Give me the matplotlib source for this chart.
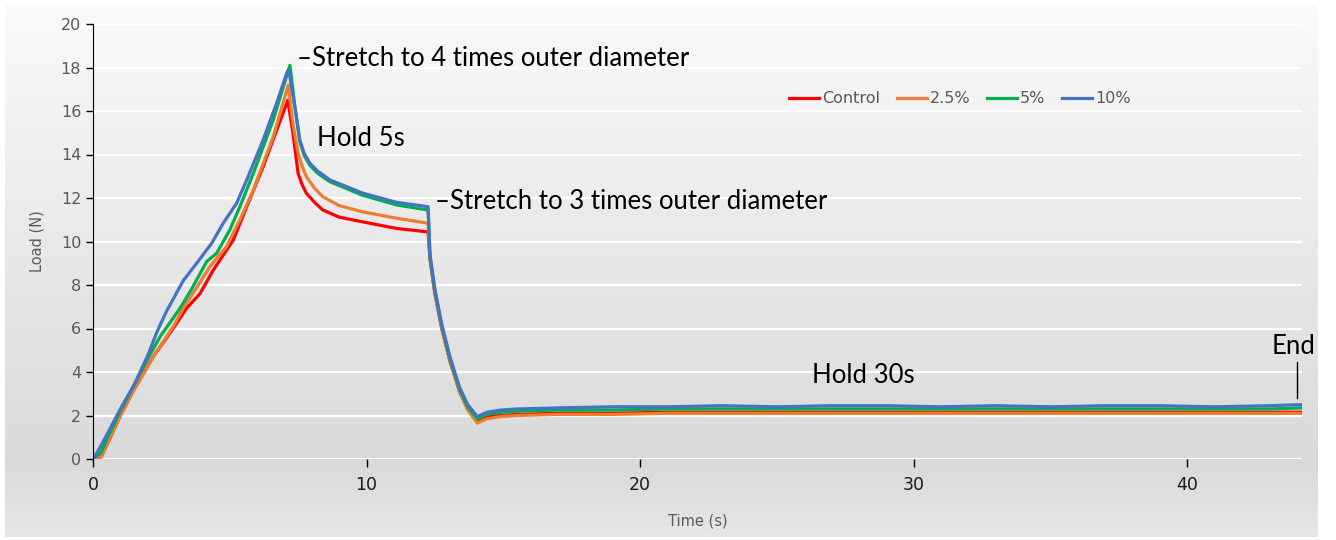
import numpy as np
import matplotlib.pyplot as plt

# time (s) / load (N)
t_blue = [0, 0.2, 0.5, 1, 1.5, 2, 2.34, 2.69, 3.3, 3.79, 4.34, 4.76, 5.25, 5.62, 6.22, 6.71, 7.08, 7.15,
          7.38, 7.56, 7.72, 7.93, 8.2, 8.66, 9.87, 11.1, 12.25,
          12.32, 12.5, 12.75, 13.05, 13.4, 13.7, 14.05, 14.4, 14.9, 15.5, 17, 19, 21,
          23, 25, 27, 29, 31, 33, 35, 37, 39, 41, 43, 44.2]
l_blue = [0, 0.4, 1.1, 2.3, 3.4, 4.75, 5.85, 6.8, 8.2, 9.0, 9.92, 10.84, 11.76, 12.83, 14.67, 16.35, 17.73, 17.9,
          16.2, 14.67, 14.05, 13.6, 13.25, 12.83, 12.22, 11.8, 11.6,
          9.4, 7.8, 6.2, 4.7, 3.3, 2.5, 1.95, 2.15, 2.25, 2.3, 2.35, 2.4, 2.4,
          2.45, 2.4, 2.45, 2.45, 2.4, 2.45, 2.4, 2.45, 2.45, 2.4, 2.45, 2.5]

t_green = [0, 0.3, 0.5, 1, 1.5, 2, 2.45, 3.18, 3.6, 4.15, 4.52, 5.0, 5.37, 5.86, 6.59, 7.2,
           7.38, 7.56, 7.72, 7.93, 8.2, 8.66, 9.87, 11.1, 12.25,
           12.32, 12.5, 12.75, 13.05, 13.4, 13.7, 14.05, 14.4, 14.9, 15.5, 17, 19, 21,
           23, 25, 27, 29, 31, 33, 35, 37, 39, 41, 43, 44.2]
l_green = [0, 0.3, 0.9, 2.2, 3.4, 4.6, 5.62, 6.93, 7.8, 9.07, 9.46, 10.53, 11.6, 13.13, 15.59, 18.1,
           16.2, 14.6, 13.95, 13.5, 13.15, 12.75, 12.12, 11.68, 11.45,
           9.3, 7.7, 6.1, 4.6, 3.2, 2.4, 1.85, 2.05, 2.15, 2.2, 2.25, 2.25, 2.3,
           2.3, 2.3, 2.3, 2.3, 2.3, 2.3, 2.3, 2.3, 2.3, 2.3, 2.3, 2.35]

t_orange = [0, 0.3, 0.6, 1, 1.5, 2.2, 2.93, 3.3, 3.8, 4.27, 4.88, 5.37, 5.86, 6.59, 7.14,
            7.31, 7.5, 7.65, 7.8, 8.1, 8.4, 9.0, 9.87, 11.1, 12.25,
            12.32, 12.5, 12.75, 13.05, 13.4, 13.7, 14.05, 14.4, 14.9, 15.5, 17, 19, 21,
            23, 25, 27, 29, 31, 33, 35, 37, 39, 41, 43, 44.2]
l_orange = [0, 0.1, 0.9, 2.0, 3.2, 4.7, 6.08, 6.93, 7.9, 8.84, 9.76, 10.99, 12.37, 14.82, 17.2,
            15.4, 14.07, 13.45, 12.98, 12.45, 12.06, 11.65, 11.36, 11.07, 10.84,
            9.2, 7.6, 6.0, 4.5, 3.1, 2.25, 1.65, 1.85, 1.95, 2.0, 2.05, 2.05, 2.1,
            2.1, 2.1, 2.1, 2.1, 2.1, 2.1, 2.1, 2.1, 2.1, 2.1, 2.1, 2.1]

t_red = [0, 0.3, 0.6, 1, 1.5, 2.2, 2.93, 3.42, 3.91, 4.4, 5.13, 5.62, 6.22, 7.08, 7.12,
         7.31, 7.5, 7.65, 7.8, 8.1, 8.4, 9.0, 9.87, 11.1, 12.25,
         12.32, 12.5, 12.75, 13.05, 13.4, 13.7, 14.05, 14.4, 14.9, 15.5, 17, 19, 21,
         23, 25, 27, 29, 31, 33, 35, 37, 39, 41, 43, 44.2]
l_red = [0, 0.1, 0.9, 2.0, 3.2, 4.7, 6.0, 6.93, 7.6, 8.69, 10.07, 11.6, 13.44, 16.35, 16.5,
         14.98, 13.13, 12.6, 12.22, 11.8, 11.45, 11.12, 10.9, 10.6, 10.44,
         9.2, 7.6, 6.0, 4.5, 3.1, 2.3, 1.75, 1.95, 2.0, 2.05, 2.1, 2.1, 2.15,
         2.15, 2.15, 2.15, 2.15, 2.15, 2.15, 2.15, 2.15, 2.15, 2.15, 2.15, 2.15]

series = [("Control", t_red, l_red, "#ff0000"),
          ("2.5%", t_orange, l_orange, "#ed7d31"),
          ("5%", t_green, l_green, "#00b050"),
          ("10%", t_blue, l_blue, "#4472c4")]

W, H = 1336, 540
fig = plt.figure(figsize=(W / 100, H / 100), dpi=100)
fig.patch.set_facecolor("white")

# gradient background box like the Excel chart area
bg = fig.add_axes([5 / W, 3 / H, 1313 / W, 532 / H])
grad = np.concatenate([np.linspace(0.975, 0.85, 86), np.linspace(0.85, 0.9, 14)])
bg.imshow(np.tile(grad[:, None], (1, 2)), cmap="gray", vmin=0, vmax=1,
          aspect="auto", extent=[0, 1, 0, 1], origin="upper")
bg.set_axis_off()

ax = fig.add_axes([93 / W, 1 - 459 / H, (1302 - 93) / W, (459 - 24) / H])
ax.set_facecolor("none")
ax.set_xlim(0, 44.2)
ax.set_ylim(0, 20)
ax.set_yticks(range(0, 21, 2))
ax.set_xticks([0, 10, 20, 30, 40])
ax.grid(axis="y", color="white", lw=1.6)
ax.set_axisbelow(True)
for s in ["top", "right", "bottom"]:
    ax.spines[s].set_visible(False)
ax.spines["left"].set_color("black")
ax.tick_params(axis="y", colors="#595959", labelsize=11.5, length=5, width=1)
ax.tick_params(axis="y", color="black")
ax.tick_params(axis="x", labelsize=12.5, length=6, width=1, color="black",
               labelcolor="#1a1a1a", pad=6)

for name, t, l, c in series:
    ax.plot(t, l, color=c, lw=2.3, label=name)

ax.legend(loc="center", bbox_to_anchor=(0.717, 0.828), ncol=4, frameon=False,
          fontsize=11.5, labelcolor="#595959", handlelength=1.9,
          handletextpad=0.2, columnspacing=1.0)

ax.set_ylabel("Load (N)", color="#595959", fontsize=10.5, labelpad=12)
ax.set_xlabel("Time (s)", color="#595959", fontsize=10.5, labelpad=14)

fnt = dict(fontsize=18.5, color="black", family="Lato")
ax.text(7.45, 18.4, "\u2013Stretch to 4 times outer diameter", va="center", **fnt)
ax.text(8.2, 14.75, "Hold 5s", va="center", **fnt)
ax.text(12.5, 11.86, "\u2013Stretch to 3 times outer diameter", va="center", **fnt)
ax.text(26.3, 3.86, "Hold 30s", va="center", **fnt)
ax.text(43.9, 5.15, "End", va="center", ha="center", **fnt)
ax.plot([44.0, 44.0], [2.8, 4.45], color="black", lw=1, clip_on=False)

fig.savefig("out.png", dpi=100)
